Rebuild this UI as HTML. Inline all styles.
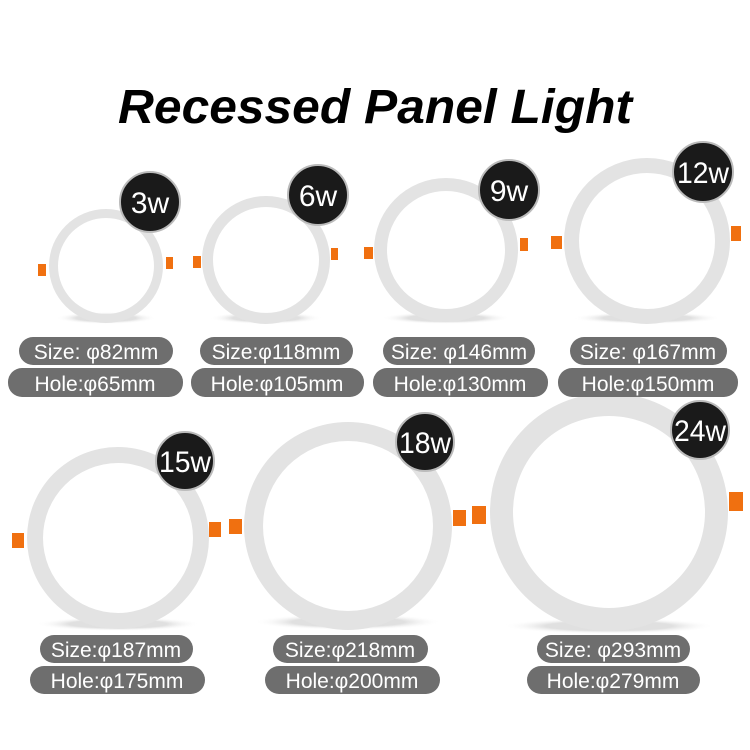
<!DOCTYPE html>
<html><head><meta charset="utf-8"><style>
html,body{margin:0;padding:0;background:#fff;}
svg{display:block;}
</style></head><body>
<svg width="750" height="750" viewBox="0 0 750 750" xmlns="http://www.w3.org/2000/svg">
<defs>
<radialGradient id="sh" cx="50%" cy="50%" r="50%"><stop offset="60%" stop-color="#ccc"/><stop offset="100%" stop-color="#fff" stop-opacity="0"/></radialGradient>
</defs>
<rect width="750" height="750" fill="#fff"/>
<text x="118" y="123" font-family="Liberation Sans, sans-serif" font-weight="bold" font-style="italic" font-size="48" textLength="514" lengthAdjust="spacingAndGlyphs" fill="#000">Recessed Panel Light</text>

<g fill="url(#sh)" opacity="0.6">
<ellipse cx="106" cy="318" rx="50" ry="6"/><ellipse cx="266" cy="318" rx="56" ry="6"/>
<ellipse cx="446" cy="318" rx="64" ry="6"/><ellipse cx="647" cy="318" rx="74" ry="6"/>
<ellipse cx="118" cy="624" rx="82" ry="7"/><ellipse cx="348" cy="622" rx="94" ry="8"/>
<ellipse cx="609" cy="626" rx="106" ry="8"/>
</g>

<g fill="#f07010">
<rect x="38" y="264" width="8" height="12"/><rect x="166" y="257" width="7" height="12"/>
<rect x="193" y="256" width="8" height="12"/><rect x="331" y="248" width="7" height="12"/>
<rect x="364" y="247" width="9" height="12"/><rect x="520" y="238" width="8" height="13"/>
<rect x="551" y="236" width="11" height="13"/><rect x="731" y="226" width="10" height="15"/>
<rect x="12" y="533" width="12" height="15"/><rect x="209" y="522" width="12" height="15"/>
<rect x="229" y="519" width="13" height="15"/><rect x="453" y="510" width="13" height="16"/>
<rect x="472" y="506" width="14" height="18"/><rect x="729" y="492" width="14" height="19"/>
</g>

<g fill="#e3e3e3" fill-rule="evenodd">
<path d="M49,266a57,57 0 1,0 114,0a57,57 0 1,0 -114,0Z M58,266a48,48 0 1,0 96,0a48,48 0 1,0 -96,0Z"/>
<path d="M202,260a64,64 0 1,0 128,0a64,64 0 1,0 -128,0Z M213,260a53,53 0 1,0 106,0a53,53 0 1,0 -106,0Z"/>
<path d="M374,250a72,72 0 1,0 144,0a72,72 0 1,0 -144,0Z M387,250a59,59 0 1,0 118,0a59,59 0 1,0 -118,0Z"/>
<path d="M564,241a83,83 0 1,0 166,0a83,83 0 1,0 -166,0Z M579,241a68,68 0 1,0 136,0a68,68 0 1,0 -136,0Z"/>
<path d="M27,538a91,91 0 1,0 182,0a91,91 0 1,0 -182,0Z M43,538a75,75 0 1,0 150,0a75,75 0 1,0 -150,0Z"/>
<path d="M244,526a104,104 0 1,0 208,0a104,104 0 1,0 -208,0Z M263,526a85,85 0 1,0 170,0a85,85 0 1,0 -170,0Z"/>
<path d="M490,512a119,119 0 1,0 238,0a119,119 0 1,0 -238,0Z M513,512a96,96 0 1,0 192,0a96,96 0 1,0 -192,0Z"/>
</g>

<g fill="#1a1a1a" stroke="#bbb" stroke-width="2">
<circle cx="150" cy="202" r="30"/><circle cx="318" cy="195" r="30"/>
<circle cx="509" cy="190" r="30"/><circle cx="703" cy="172" r="30"/>
<circle cx="185" cy="461" r="29"/><circle cx="425" cy="442" r="29"/>
<circle cx="700" cy="430" r="29"/>
</g>
<g fill="#fff" font-family="Liberation Sans, sans-serif" font-size="30" text-anchor="middle">
<text x="150" y="213">3w</text><text x="318" y="206">6w</text>
<text x="509" y="201">9w</text>
<text x="703" y="183" textLength="52" lengthAdjust="spacingAndGlyphs">12w</text>
<text x="185" y="472" textLength="52" lengthAdjust="spacingAndGlyphs">15w</text>
<text x="425" y="453" textLength="52" lengthAdjust="spacingAndGlyphs">18w</text>
<text x="700" y="441" textLength="52" lengthAdjust="spacingAndGlyphs">24w</text>
</g>

<g fill="#6e6e6e">
<rect x="19" y="337" width="154" height="28" rx="14"/><rect x="8" y="368" width="175" height="29" rx="14"/>
<rect x="200" y="337" width="153" height="28" rx="14"/><rect x="191" y="368" width="173" height="29" rx="14"/>
<rect x="383" y="337" width="152" height="28" rx="14"/><rect x="373" y="368" width="175" height="29" rx="14"/>
<rect x="570" y="337" width="157" height="28" rx="14"/><rect x="558" y="368" width="180" height="29" rx="14"/>
<rect x="40" y="635" width="153" height="28" rx="14"/><rect x="30" y="666" width="175" height="28" rx="14"/>
<rect x="273" y="635" width="155" height="28" rx="14"/><rect x="265" y="666" width="175" height="28" rx="14"/>
<rect x="537" y="635" width="153" height="28" rx="14"/><rect x="527" y="666" width="173" height="28" rx="14"/>
</g>
<g fill="#fff" font-family="Liberation Sans, sans-serif" font-size="21" text-anchor="middle">
<text x="96" y="359">Size: φ82mm</text><text x="95" y="391">Hole:φ65mm</text>
<text x="276" y="359">Size:φ118mm</text><text x="277" y="391">Hole:φ105mm</text>
<text x="459" y="359">Size: φ146mm</text><text x="460" y="391">Hole:φ130mm</text>
<text x="648" y="359">Size: φ167mm</text><text x="648" y="391">Hole:φ150mm</text>
<text x="116" y="657">Size:φ187mm</text><text x="117" y="688">Hole:φ175mm</text>
<text x="350" y="657">Size:φ218mm</text><text x="352" y="688">Hole:φ200mm</text>
<text x="613" y="657">Size: φ293mm</text><text x="613" y="688">Hole:φ279mm</text>
</g>
</svg>
</body></html>
